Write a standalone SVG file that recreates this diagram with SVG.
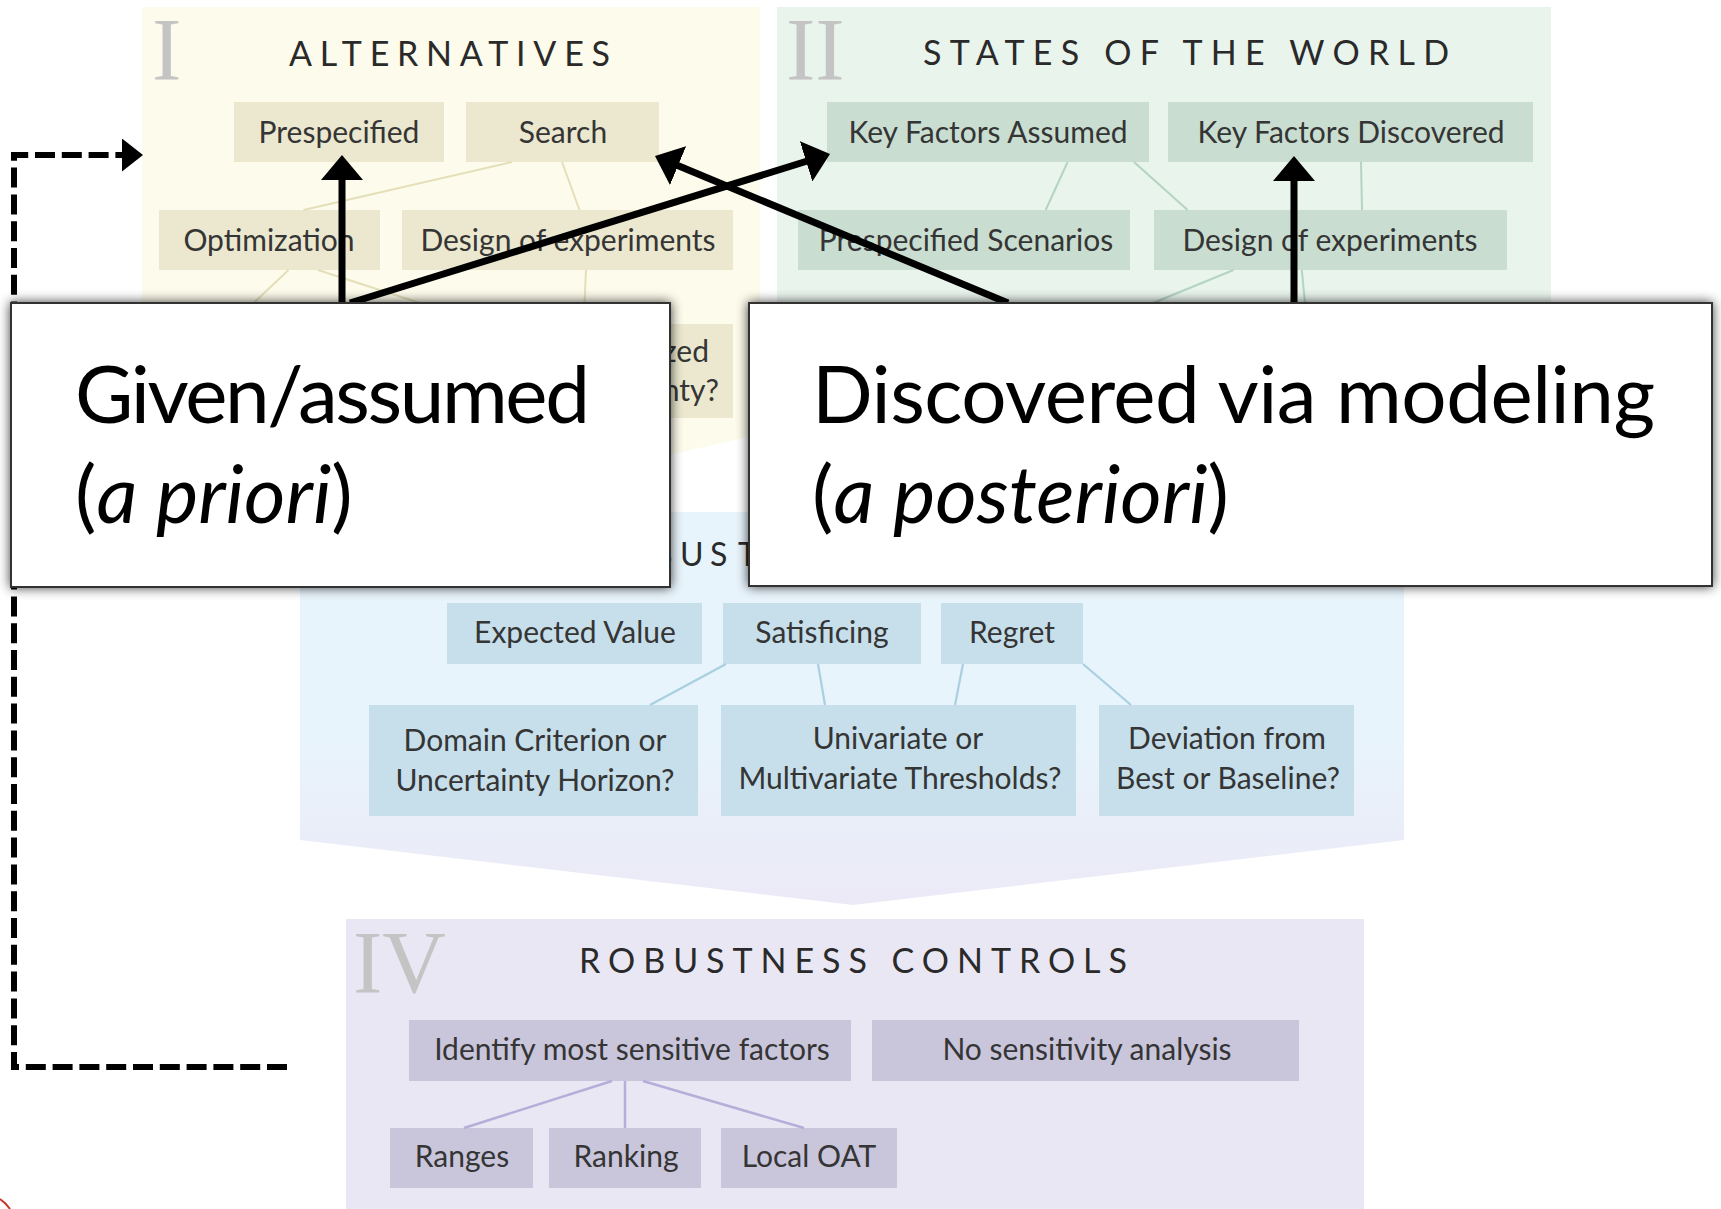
<svg xmlns="http://www.w3.org/2000/svg" width="1721" height="1209" viewBox="0 0 1721 1209">
  <defs>
    <style>
      .lbl { font-family: Lato, "Open Sans", "Liberation Sans", sans-serif; font-size: 30px; fill: #353535; text-anchor: middle; }
      .title { font-family: Lato, "Open Sans", "Liberation Sans", sans-serif; font-size: 34px; fill: #2a2a2a; }
      .num { font-family: "Liberation Serif", "DejaVu Serif", serif; font-size: 88px; fill: #c4c4c4; }
      .big { font-family: Lato, "Open Sans", "Liberation Sans", sans-serif; font-size: 80px; fill: #000; }
      .big .it { font-style: italic; }
      .alt .box { fill: #ebe8cf; }
      .sow .box { fill: #c9ded1; }
      .rob .box { fill: #c6dfeb; }
      .ctl .box { fill: #c9c6dc; }
      .link-alt { stroke: #e4dfb9; stroke-width: 2; fill: none; }
      .link-sow { stroke: #b4d4c2; stroke-width: 2; fill: none; }
      .link-rob { stroke: #a9cfe1; stroke-width: 2.2; fill: none; }
      .link-ctl { stroke: #b4afd8; stroke-width: 2.5; fill: none; }
      .arrow { stroke: #000; stroke-width: 7; fill: none; marker-end: url(#head); }
      .callout { fill: #fff; stroke: #333; stroke-width: 2; }
    </style>
    <filter id="soft-shadow" x="-10%" y="-20%" width="120%" height="140%">
      <feGaussianBlur in="SourceAlpha" stdDeviation="6"/>
      <feComponentTransfer><feFuncA type="linear" slope="0.75"/></feComponentTransfer>
      <feMerge><feMergeNode/><feMergeNode in="SourceGraphic"/></feMerge>
    </filter>
    <marker id="head" markerUnits="userSpaceOnUse" markerWidth="25" markerHeight="42" viewBox="0 0 25 42" refX="3" refY="21" orient="auto">
      <path d="M0,0 L25,21 L0,42 Z" fill="#000"/>
    </marker>
    <marker id="dash-head" markerUnits="userSpaceOnUse" markerWidth="21" markerHeight="33" viewBox="0 0 21 33" refX="0" refY="16.5" orient="auto">
      <path d="M0,0 L21,16.5 L0,33 Z" fill="#000"/>
    </marker>
    <linearGradient id="rob-fade" gradientUnits="userSpaceOnUse" x1="0" y1="740" x2="0" y2="905">
      <stop offset="0" stop-color="#e8f4fc"/>
      <stop offset="1" stop-color="#ece9f7"/>
    </linearGradient>
  </defs>

  <rect width="1721" height="1209" fill="#fff"/>

  <!-- Section I: alternatives -->
  <g id="panel-alternatives" class="alt">
    <polygon points="142,7 760,7 760,434 451,506 142,434" fill="#fdfbeb"/>
    <text class="num" x="152" y="79">I</text>
    <text class="title" x="289" y="66" textLength="321">ALTERNATIVES</text>
  </g>

  <!-- Section II: states of the world -->
  <g id="panel-states" class="sow">
    <polygon points="777,7 1551,7 1551,434 1164,506 777,434" fill="#e9f4ed"/>
    <text class="num" x="786" y="79">II</text>
    <text class="title" x="923" y="65" textLength="526">STATES OF THE WORLD</text>
  </g>

  <!-- Section III: robustness metrics (heading mostly covered) -->
  <g id="panel-robustness" class="rob">
    <polygon points="300,512 1404,512 1404,840 853,905 300,840" fill="url(#rob-fade)"/>
    <text class="title" y="566" style="font-size:32px"><tspan x="652">B</tspan><tspan x="680">U</tspan><tspan x="710">S</tspan><tspan x="738">T</tspan></text>
  </g>

  <!-- Section IV: robustness controls -->
  <g id="panel-controls" class="ctl">
    <rect x="346" y="919" width="1018" height="295" fill="#e9e7f4"/>
    <text class="num" x="353" y="992">IV</text>
    <text class="title" x="579" y="973" textLength="548">ROBUSTNESS CONTROLS</text>
  </g>

  <!-- Nodes: alternatives -->
  <g class="alt">
    <g id="alt-prespecified"><rect class="box" x="234" y="102" width="210" height="60"/><text class="lbl" x="339" y="143">Prespecified</text></g>
    <g id="alt-search"><rect class="box" x="466" y="102" width="193" height="60"/><text class="lbl" x="563" y="143">Search</text></g>
    <g id="alt-optimization"><rect class="box" x="159" y="210" width="221" height="60"/><text class="lbl" x="269" y="251">Optimization</text></g>
    <g id="alt-doe"><rect class="box" x="402" y="210" width="331" height="60"/><text class="lbl" x="568" y="251">Design of experiments</text></g>
    <g id="alt-third-row"><rect class="box" x="540" y="324" width="193" height="94"/>
      <text class="lbl" x="709" y="362" style="text-anchor:end">zed</text>
      <text class="lbl" x="719" y="401" style="text-anchor:end">nty?</text>
    </g>
  </g>

  <!-- Nodes: states of the world -->
  <g class="sow">
    <g id="sow-assumed"><rect class="box" x="827" y="102" width="322" height="60"/><text class="lbl" x="988" y="143">Key Factors Assumed</text></g>
    <g id="sow-discovered"><rect class="box" x="1168" y="102" width="365" height="60"/><text class="lbl" x="1351" y="143">Key Factors Discovered</text></g>
    <g id="sow-scenarios"><rect class="box" x="798" y="210" width="332" height="60"/><text class="lbl" x="966" y="251">Prespecified Scenarios</text></g>
    <g id="sow-doe"><rect class="box" x="1154" y="210" width="353" height="60"/><text class="lbl" x="1330" y="251">Design of experiments</text></g>
  </g>

  <!-- Nodes: robustness metrics -->
  <g class="rob">
    <g id="rob-expected"><rect class="box" x="447" y="603" width="255" height="61"/><text class="lbl" x="575" y="643">Expected Value</text></g>
    <g id="rob-satisficing"><rect class="box" x="723" y="603" width="198" height="61"/><text class="lbl" x="822" y="643">Satisficing</text></g>
    <g id="rob-regret"><rect class="box" x="941" y="603" width="142" height="61"/><text class="lbl" x="1012" y="643">Regret</text></g>
    <g id="rob-domain"><rect class="box" x="369" y="705" width="329" height="111"/>
      <text class="lbl" x="535" y="751">Domain Criterion or</text>
      <text class="lbl" x="535" y="791">Uncertainty Horizon?</text></g>
    <g id="rob-thresholds"><rect class="box" x="721" y="705" width="355" height="111"/>
      <text class="lbl" x="898" y="749">Univariate or</text>
      <text class="lbl" x="900" y="789">Multivariate Thresholds?</text></g>
    <g id="rob-deviation"><rect class="box" x="1099" y="705" width="255" height="111"/>
      <text class="lbl" x="1227" y="749">Deviation from</text>
      <text class="lbl" x="1228" y="789">Best or Baseline?</text></g>
  </g>

  <!-- Nodes: robustness controls -->
  <g class="ctl">
    <g id="ctl-identify"><rect class="box" x="409" y="1020" width="442" height="61"/><text class="lbl" x="632" y="1060">Identify most sensitive factors</text></g>
    <g id="ctl-none"><rect class="box" x="872" y="1020" width="427" height="61"/><text class="lbl" x="1087" y="1060">No sensitivity analysis</text></g>
    <g id="ctl-ranges"><rect class="box" x="390" y="1128" width="143" height="60"/><text class="lbl" x="462" y="1167">Ranges</text></g>
    <g id="ctl-ranking"><rect class="box" x="549" y="1128" width="152" height="60"/><text class="lbl" x="626" y="1167">Ranking</text></g>
    <g id="ctl-oat"><rect class="box" x="721" y="1128" width="176" height="60"/><text class="lbl" x="809" y="1167">Local OAT</text></g>
  </g>

  <!-- Connectors -->
  <g id="connectors">
    <g id="links-alternatives" class="link-alt">
      <line x1="512" y1="162" x2="303.5" y2="210"/>
      <line x1="562" y1="162" x2="579.5" y2="210"/>
      <line x1="288.5" y1="270" x2="253.7" y2="303"/>
      <line x1="318" y1="270" x2="420" y2="303"/>
      <line x1="586" y1="270" x2="584.5" y2="303"/>
    </g>
    <g id="links-states" class="link-sow">
      <line x1="1067.6" y1="162" x2="1045.7" y2="210"/>
      <line x1="1134" y1="162" x2="1187.6" y2="210"/>
      <line x1="1361" y1="162" x2="1362" y2="210"/>
      <line x1="1233.5" y1="270" x2="1153" y2="303"/>
      <line x1="1301.8" y1="270" x2="1305" y2="303"/>
    </g>
    <g id="links-robustness" class="link-rob">
      <line x1="726" y1="664" x2="650" y2="705"/>
      <line x1="818" y1="664" x2="825" y2="705"/>
      <line x1="963" y1="664" x2="955" y2="705"/>
      <line x1="1083" y1="664" x2="1131" y2="705"/>
    </g>
    <g id="links-controls" class="link-ctl">
      <line x1="612" y1="1081" x2="464" y2="1128"/>
      <line x1="625" y1="1081" x2="625" y2="1128"/>
      <line x1="643" y1="1081" x2="804" y2="1128"/>
    </g>
    <g id="callout-arrows">
      <path class="arrow" d="M342,303 L342,177"/>
      <path class="arrow" d="M350,303 L809,160.5"/>
      <path class="arrow" d="M1008,303 L675.3,164.5"/>
      <path class="arrow" d="M1294,303 L1294,178"/>
    </g>
    <path id="feedback-loop" d="M287,1067 H14 V155 H122" fill="none" stroke="#000" stroke-width="6" stroke-dasharray="20 6.8" marker-end="url(#dash-head)"/>
  </g>

  <!-- Callout boxes -->
  <g id="callout-given">
    <rect class="callout" x="11" y="303" width="659" height="284" filter="url(#soft-shadow)"/>
    <text class="big" x="75" y="423" textLength="515">Given/assumed</text>
    <text class="big" x="75" y="523">(<tspan class="it">a priori</tspan>)</text>
  </g>
  <g id="callout-discovered">
    <rect class="callout" x="749" y="303" width="963" height="283" filter="url(#soft-shadow)"/>
    <text class="big" x="812" y="423" textLength="843">Discovered via modeling</text>
    <text class="big" x="812" y="523">(<tspan class="it">a posteriori</tspan>)</text>
  </g>

  <!-- corner mark -->
  <path d="M0,1199 Q6,1203 10,1209" fill="none" stroke="#c8322c" stroke-width="2"/>
</svg>
